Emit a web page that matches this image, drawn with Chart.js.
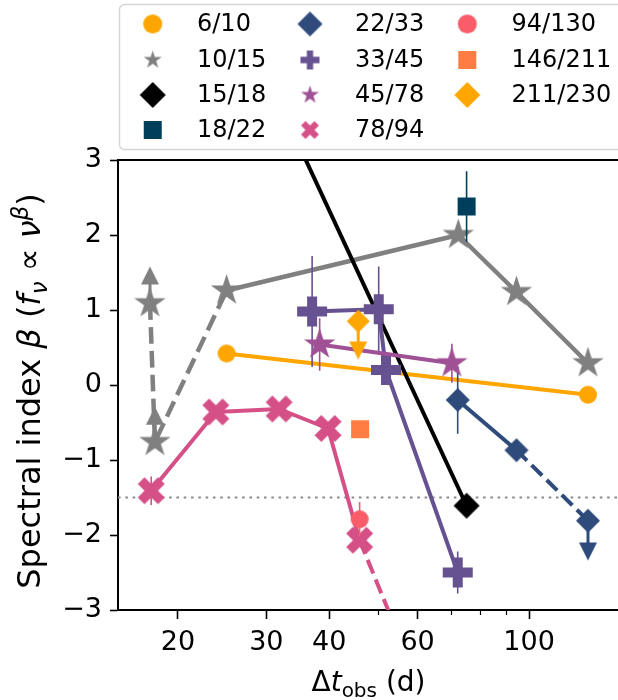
<!DOCTYPE html>
<html>
<head>
<meta charset="utf-8">
<script src="https://cdn.jsdelivr.net/npm/chart.js@4.4.1/dist/chart.umd.min.js"></script>
<style>
  html, body { margin: 0; padding: 0; background: #fff; overflow: hidden; }
  #wrap { width: 640px; height: 700px; }
</style>
</head>
<body>
<div id="wrap"><canvas id="betaChart" width="640" height="700"></canvas></div>
<script>
// frequency pairs (GHz) and their colours
const pairLabels = ['6/10', '10/15', '15/18', '18/22', '22/33', '33/45', '45/78', '78/94', '94/130', '146/211', '211/230'];
const pairColors = ['#ffa500', '#808080', '#000000', '#003f5c', '#2f4b7c', '#665191', '#a05195', '#d45087', '#f95d6a', '#ff7c43', '#ffa600'];

// Δt_obs (d) and spectral index β for each pair
const dt_6_10 = [25.0, 131];
const beta_6_10 = [0.42, -0.13];

const dt_10_15 = [17.6, 18.0, 25.0, 72.3, 94.4, 131];
const beta_10_15 = [1.09, -0.76, 1.26, 2.0, 1.24, 0.29];
const lowLim_10_15 = [1.46, -0.41, null, null, null, null];

const dt_15_18 = [30, 75.1];
const beta_15_18 = [4.13, -1.61];

const dt_18_22 = [75.1];
const beta_18_22 = [2.38];
const err_18_22 = [0.47];

const dt_22_33 = [72.1, 94.4, 131];
const beta_22_33 = [-0.20, -0.87, -1.81];
const err_22_33 = [0.45, 0, 0];
const upLim_22_33 = [null, null, -2.22];

const dt_33_45 = [37.0, 50.2, 51.9, 72.1];
const beta_33_45 = [0.98, 1.01, 0.20, -2.50];
const err_33_45 = [0.74, 0.57, 0, 0.28];

const dt_45_78 = [38.3, 70.2];
const beta_45_78 = [0.54, 0.29];
const err_45_78 = [0.35, 0.26];

const dt_78_94 = [17.7, 23.8, 31.8, 39.8, 46.0, 60];
const beta_78_94 = [-1.41, -0.36, -0.32, -0.58, -2.07, -3.96];
const err_78_94 = [0.19, 0, 0, 0, 0, 0];

const dt_94_130 = [46.0];
const beta_94_130 = [-1.79];
const err_94_130 = [0.23];

const dt_146_211 = [46.1];
const beta_146_211 = [-0.59];

const dt_211_230 = [45.7];
const beta_211_230 = [0.85];
const upLim_211_230 = [0.46];

const xTicks = [20, 30, 40, 60, 100];
const xMinorTicks = [50, 70, 80, 90];
const yTicks = [-3, -2, -1, 0, 1, 2, 3];
const betaRef = -1.5;

const FONT = '"DejaVu Sans"';

// filled matplotlib-like markers as small canvases
function marker(shape, r, color) {
  const size = Math.ceil(r * 2 + 4);
  const c = document.createElement('canvas');
  c.width = c.height = size;
  const g = c.getContext('2d');
  g.translate(size / 2, size / 2);
  g.fillStyle = color;
  g.beginPath();
  if (shape === 'circle') {
    g.arc(0, 0, r, 0, Math.PI * 2);
  } else if (shape === 'square') {
    g.rect(-r, -r, 2 * r, 2 * r);
  } else if (shape === 'diamond') {
    g.moveTo(0, -r); g.lineTo(r, 0); g.lineTo(0, r); g.lineTo(-r, 0);
  } else if (shape === 'star') {
    for (let i = 0; i < 10; i++) {
      const a = -Math.PI / 2 + i * Math.PI / 5;
      const rr = i % 2 ? r * 0.382 : r;
      g.lineTo(rr * Math.cos(a), rr * Math.sin(a));
    }
  } else if (shape === 'plus' || shape === 'x') {
    const w = r / 3;
    const pts = [[-w, -r], [w, -r], [w, -w], [r, -w], [r, w], [w, w], [w, r], [-w, r], [-w, w], [-r, w], [-r, -w], [-w, -w]];
    if (shape === 'x') g.rotate(Math.PI / 4);
    pts.forEach(p => g.lineTo(p[0], p[1]));
  } else if (shape === 'triUp') {
    g.moveTo(0, -r); g.lineTo(r, r); g.lineTo(-r, r);
  } else if (shape === 'triDown') {
    g.moveTo(0, r); g.lineTo(r, -r); g.lineTo(-r, -r);
  }
  g.closePath();
  g.fill();
  return c;
}

const series = [
  { dt: dt_6_10, beta: beta_6_10, shape: 'circle', size: 9, legendSize: 9.5, lw: 4 },
  { dt: dt_10_15, beta: beta_10_15, lim: lowLim_10_15, limDir: 'up', shape: 'star', size: 16.5, legendSize: 9.5, lw: 4.5, dashed: [0, 1] },
  { dt: dt_15_18, beta: beta_15_18, shape: 'diamond', size: 13, legendSize: 13, lw: 4 },
  { dt: dt_18_22, beta: beta_18_22, err: err_18_22, shape: 'square', size: 9, legendSize: 9, lw: 4 },
  { dt: dt_22_33, beta: beta_22_33, err: err_22_33, lim: upLim_22_33, limDir: 'down', shape: 'diamond', size: 12, legendSize: 12.5, lw: 4, dashed: [1] },
  { dt: dt_33_45, beta: beta_33_45, err: err_33_45, shape: 'plus', size: 15, legendSize: 9.5, lw: 4 },
  { dt: dt_45_78, beta: beta_45_78, err: err_45_78, shape: 'star', size: 16.5, legendSize: 9.5, lw: 4 },
  { dt: dt_78_94, beta: beta_78_94, err: err_78_94, shape: 'x', size: 14.3, legendSize: 9.5, lw: 4, dashed: [4] },
  { dt: dt_94_130, beta: beta_94_130, err: err_94_130, shape: 'circle', size: 9, legendSize: 9.5, lw: 4 },
  { dt: dt_146_211, beta: beta_146_211, shape: 'square', size: 9, legendSize: 9, lw: 4 },
  { dt: dt_211_230, beta: beta_211_230, lim: upLim_211_230, limDir: 'down', shape: 'diamond', size: 11.5, legendSize: 13, lw: 4 }
].map((s, i) => Object.assign({ label: pairLabels[i], color: pairColors[i], dashed: [] }, s));

const datasets = series.map((s, i) => ({
  label: s.label,
  data: s.dt.map((x, k) => ({ x: x, y: s.beta[k] })),
  showLine: s.dt.length > 1,
  borderColor: s.color,
  backgroundColor: s.color,
  borderWidth: s.lw,
  borderJoinStyle: 'round',
  pointStyle: marker(s.shape, s.size, s.color),
  pointRadius: s.size,
  pointHoverRadius: s.size,
  tension: 0,
  order: -i,
  segment: {
    borderDash: ctx => s.dashed.includes(ctx.p0DataIndex) ? [s.lw * 3.7, s.lw * 1.6] : undefined
  }
}));

function richText(ctx, runs, x, y, rotate) {
  ctx.save();
  ctx.translate(x, y);
  if (rotate) ctx.rotate(-Math.PI / 2);
  ctx.textAlign = 'left';
  ctx.textBaseline = 'alphabetic';
  ctx.fillStyle = '#000';
  let total = 0;
  runs.forEach(r => { ctx.font = r.font; total += ctx.measureText(r.t).width; });
  let cx = -total / 2;
  runs.forEach(r => {
    ctx.font = r.font;
    ctx.fillText(r.t, cx, r.dy || 0);
    cx += ctx.measureText(r.t).width;
  });
  ctx.restore();
}

const XN = '28px ' + FONT, XI = 'italic 28px ' + FONT, XS = '20px ' + FONT;
const YN = '32px ' + FONT, YI = 'italic 32px ' + FONT, YSI = 'italic 23px ' + FONT;

const extras = {
  id: 'extras',
  beforeDatasetsDraw(chart) {
    const { ctx, chartArea: a, scales: { y } } = chart;
    const py = y.getPixelForValue(betaRef);
    ctx.save();
    ctx.strokeStyle = '#8a8a8a';
    ctx.lineWidth = 2;
    ctx.setLineDash([2.6, 4.7]);
    ctx.beginPath();
    ctx.moveTo(a.left, py);
    ctx.lineTo(a.right, py);
    ctx.stroke();
    ctx.restore();
  },
  beforeDatasetDraw(chart, args) {
    const s = series[args.index];
    const { ctx, chartArea: a, scales: { x, y } } = chart;
    ctx.save();
    ctx.beginPath();
    ctx.rect(a.left, a.top, a.right - a.left, a.bottom - a.top);
    ctx.clip();
    ctx.strokeStyle = s.color;
    s.dt.forEach((t, k) => {
      const px = x.getPixelForValue(t);
      if (s.err && s.err[k]) {
        ctx.lineWidth = 1.6;
        ctx.beginPath();
        ctx.moveTo(px, y.getPixelForValue(s.beta[k] - s.err[k]));
        ctx.lineTo(px, y.getPixelForValue(s.beta[k] + s.err[k]));
        ctx.stroke();
      }
      if (s.lim && s.lim[k] != null) {
        ctx.lineWidth = 3;
        ctx.beginPath();
        ctx.moveTo(px, y.getPixelForValue(s.beta[k]));
        ctx.lineTo(px, y.getPixelForValue(s.lim[k]));
        ctx.stroke();
      }
    });
    ctx.restore();
  },
  afterDatasetDraw(chart, args) {
    const s = series[args.index];
    if (!s.lim) return;
    const { ctx, scales: { x, y } } = chart;
    const tri = marker(s.limDir === 'up' ? 'triUp' : 'triDown', 9, s.color);
    s.dt.forEach((t, k) => {
      if (s.lim[k] == null) return;
      ctx.drawImage(tri, x.getPixelForValue(t) - tri.width / 2, y.getPixelForValue(s.lim[k]) - tri.height / 2);
    });
  },
  afterDraw(chart) {
    const { ctx, chartArea: a, scales: { x } } = chart;
    ctx.save();
    // top spine
    ctx.strokeStyle = '#000';
    ctx.lineWidth = 2;
    ctx.beginPath();
    ctx.moveTo(a.left - 1, a.top);
    ctx.lineTo(a.right, a.top);
    ctx.stroke();
    // minor x ticks
    ctx.lineWidth = 1.2;
    xMinorTicks.forEach(v => {
      const px = Math.round(x.getPixelForValue(v)) + 0.5;
      ctx.beginPath();
      ctx.moveTo(px, a.bottom);
      ctx.lineTo(px, a.bottom + 5);
      ctx.stroke();
    });

    // legend box
    const lx = 119.5, ly = 4.5, lw = 530, lh = 145, rr = 5;
    ctx.strokeStyle = '#d6d6d6';
    ctx.lineWidth = 1.5;
    ctx.fillStyle = '#fff';
    ctx.beginPath();
    ctx.moveTo(lx + rr, ly);
    ctx.arcTo(lx + lw, ly, lx + lw, ly + lh, rr);
    ctx.arcTo(lx + lw, ly + lh, lx, ly + lh, rr);
    ctx.arcTo(lx, ly + lh, lx, ly, rr);
    ctx.arcTo(lx, ly, lx + lw, ly, rr);
    ctx.closePath();
    ctx.fill();
    ctx.stroke();
    const colMarker = [152.7, 310, 467.3], colText = [197, 355, 511.5], rowY = [24, 60, 95, 130];
    ctx.font = '24px ' + FONT;
    ctx.fillStyle = '#000';
    ctx.textBaseline = 'middle';
    ctx.textAlign = 'left';
    series.forEach((s, i) => {
      const c = Math.floor(i / 4), r = i % 4;
      const m = marker(s.shape, s.legendSize, s.color);
      ctx.drawImage(m, colMarker[c] - m.width / 2, rowY[r] - m.height / 2);
      ctx.fillText(s.label, colText[c], rowY[r] + 1);
    });

    // axis titles
    richText(ctx, [
      { t: 'Δ', font: XN }, { t: 't', font: XI }, { t: 'obs', font: XS, dy: 6 }, { t: ' (d)', font: XN }
    ], (a.left + a.right) / 2, 691, false);
    richText(ctx, [
      { t: 'Spectral index ', font: YN }, { t: 'β', font: YI }, { t: ' (', font: YN },
      { t: 'f', font: YI }, { t: 'ν', font: YSI, dy: 7 }, { t: ' ∝ ', font: YN },
      { t: 'ν', font: YI }, { t: 'β', font: YSI, dy: -12 }, { t: ')', font: YN }
    ], 40, (a.top + a.bottom) / 2 + 6, true);
    ctx.restore();
  }
};

new Chart(document.getElementById('betaChart'), {
  type: 'scatter',
  data: { datasets: datasets },
  options: {
    responsive: false,
    animation: false,
    devicePixelRatio: 1,
    layout: { padding: { top: 160, right: 18, left: 0, bottom: 0 } },
    plugins: { legend: { display: false }, tooltip: { enabled: false } },
    scales: {
      x: {
        type: 'logarithmic',
        min: 15.2,
        max: 151,
        afterBuildTicks: scale => { scale.ticks = xTicks.map(v => ({ value: v })); },
        afterFit: scale => { scale.height = 90; },
        ticks: {
          callback: v => String(v),
          color: '#000',
          font: { family: 'DejaVu Sans', size: 27 },
          maxRotation: 0,
          autoSkip: false,
          padding: 8
        },
        grid: { drawOnChartArea: false, tickLength: 9, tickWidth: 1.6, tickColor: '#000', color: '#000' },
        border: { color: '#000', width: 2 }
      },
      y: {
        min: -3,
        max: 3,
        afterBuildTicks: scale => { scale.ticks = yTicks.map(v => ({ value: v })); },
        afterFit: scale => { scale.width = 118; },
        ticks: {
          callback: v => (v < 0 ? '\u2212' + Math.abs(v) : String(v)),
          color: '#000',
          font: { family: 'DejaVu Sans', size: 27 },
          padding: 8
        },
        grid: { drawOnChartArea: false, tickLength: 8, tickWidth: 1.6, tickColor: '#000', color: '#000' },
        border: { color: '#000', width: 2 }
      }
    }
  },
  plugins: [extras]
});
</script>
</body>
</html>
